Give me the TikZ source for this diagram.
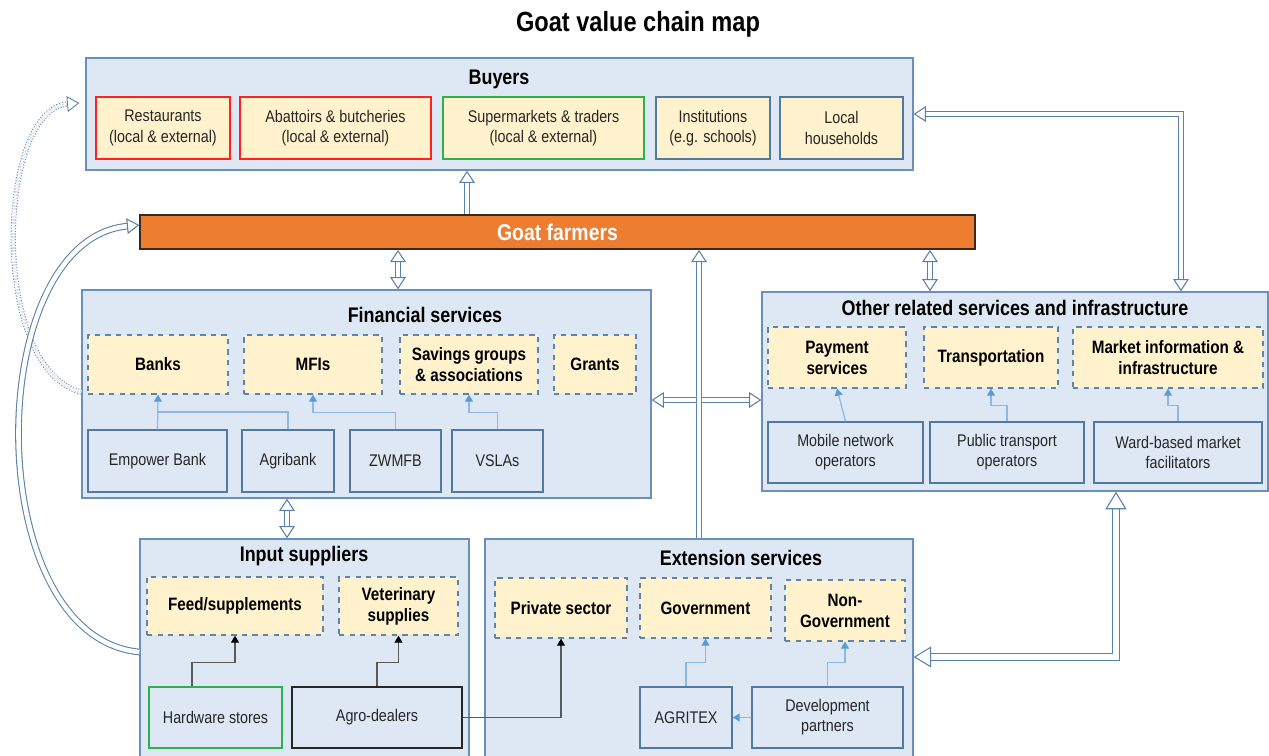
\documentclass[tikz,border=0pt]{standalone}
\usepackage{fontspec}
\setmainfont[FakeStretch=0.85]{Liberation Sans}
\usetikzlibrary{arrows.meta, positioning, calc}

\definecolor{frameblue}{HTML}{6B8FBB}
\definecolor{panelfill}{HTML}{DEE8F4}
\definecolor{catfill}{HTML}{FFF2CC}
\definecolor{dashblue}{HTML}{5C84B1}
\definecolor{actorblue}{HTML}{52799F}
\definecolor{linkblue}{HTML}{8DB8E2}
\definecolor{tipblue}{HTML}{5B9BD5}
\definecolor{flowblue}{HTML}{5A80AC}
\definecolor{farmorange}{HTML}{ED7D31}
\definecolor{farmborder}{HTML}{3A2A1E}
\definecolor{buyred}{HTML}{FF2020}
\definecolor{buygreen}{HTML}{2DB050}
\definecolor{txtgray}{HTML}{262626}

\begin{document}
\begin{tikzpicture}[
    x=0.02cm, y=-0.02cm,
    every node/.style={align=center, inner sep=1pt, text=txtgray}
]
    % Define styles
    \tikzstyle{panel} = [rectangle, draw=frameblue, fill=panelfill, line width=0.8pt]
    \tikzstyle{heading} = [font=\fontsize{12}{14}\selectfont\bfseries, text=black]
    \tikzstyle{category} = [rectangle, draw=dashblue, dashed, fill=catfill, line width=0.7pt, font=\fontsize{10.2}{12}\selectfont\bfseries, text=black]
    \tikzstyle{actor} = [rectangle, draw=actorblue, line width=0.7pt, font=\fontsize{9.6}{11.5}\selectfont]
    \tikzstyle{buyer} = [rectangle, fill=catfill, line width=0.7pt, minimum height=1.24cm, font=\fontsize{9.6}{11.5}\selectfont]
    \tikzstyle{link} = [draw=linkblue, line width=0.7pt]
    \tikzstyle{linkarrow} = [link, -{Triangle[length=4pt, width=4.5pt, color=tipblue]}]
    \tikzstyle{supply} = [draw=gray!70!black, line width=0.7pt]
    \tikzstyle{supplyarrow} = [supply, -{Triangle[length=4pt, width=4.5pt, color=black]}]
    \tikzstyle{flow} = [draw=flowblue, line width=0.6pt, double=white, double distance=2.6pt, -{Triangle[open, length=7pt, width=9pt]}]
    \tikzstyle{flowboth} = [flow, {Triangle[open, length=7pt, width=9pt]}-{Triangle[open, length=7pt, width=9pt]}]

    \useasboundingbox (0,0) rectangle (1269,755);

    % Title
    \node[font=\fontsize{15.8}{18}\selectfont\bfseries, text=black] (title) at (638,24) {Goat value chain map};

    % Buyers
    \node[panel, minimum width=16.54cm, minimum height=2.24cm] (buyers) at (499.5,114) {};
    \node[heading] (buyershead) at (499,79) {Buyers};
    \node[buyer, draw=buyred, minimum width=2.68cm] (rest) at (163,128) {Restaurants\\(local \& external)};
    \node[buyer, draw=buyred, minimum width=3.82cm] (abat) at (335.5,128) {Abattoirs \& butcheries\\(local \& external)};
    \node[buyer, draw=buygreen, minimum width=4.02cm] (super) at (543.5,128) {Supermarkets \& traders\\(local \& external)};
    \node[buyer, draw=actorblue, minimum width=2.28cm] (inst) at (713,128) {Institutions\\(e.g. schools)};
    \node[buyer, draw=actorblue, minimum width=2.46cm] (house) at (841.5,128) {Local\\households};

    % Goat farmers
    \node[rectangle, draw=farmborder, fill=farmorange, line width=1pt, minimum width=16.7cm, minimum height=0.68cm,
          font=\fontsize{13}{15}\selectfont\bfseries, text=white] (goat) at (557.5,232) {Goat farmers};

    % Financial services
    \node[panel, minimum width=11.38cm, minimum height=4.16cm] (fin) at (366.5,394) {};
    \node[heading] (finhead) at (425,315) {Financial services};
    \node[category, minimum width=2.8cm, minimum height=1.18cm] (banks) at (158,364.5) {Banks};
    \node[category, minimum width=2.76cm, minimum height=1.18cm] (mfis) at (313,364.5) {MFIs};
    \node[category, minimum width=2.76cm, minimum height=1.18cm] (savings) at (469,364.5) {Savings groups\\\& associations};
    \node[category, minimum width=1.64cm, minimum height=1.18cm] (grants) at (595,364.5) {Grants};
    \node[actor, minimum width=2.78cm, minimum height=1.24cm] (empower) at (157.5,461) {Empower Bank};
    \node[actor, minimum width=1.84cm, minimum height=1.24cm] (agribank) at (288,461) {Agribank};
    \node[actor, minimum width=1.82cm, minimum height=1.24cm] (zwmfb) at (395.5,461) {ZWMFB};
    \node[actor, minimum width=1.82cm, minimum height=1.24cm] (vslas) at (497.5,461) {VSLAs};

    % Other related services and infrastructure
    \node[panel, minimum width=10.12cm, minimum height=3.98cm] (other) at (1015,391.5) {};
    \node[heading] (otherhead) at (1015,308) {Other related services and infrastructure};
    \node[category, minimum width=2.76cm, minimum height=1.22cm] (pay) at (837,357.5) {Payment\\services};
    \node[category, minimum width=2.68cm, minimum height=1.22cm] (transp) at (991,357.5) {Transportation};
    \node[category, minimum width=3.8cm, minimum height=1.22cm] (market) at (1168,357.5) {Market information \&\\infrastructure};
    \node[actor, minimum width=3.1cm, minimum height=1.22cm] (mobile) at (845.5,452.5) {Mobile network\\operators};
    \node[actor, minimum width=3.08cm, minimum height=1.22cm] (public) at (1007,452.5) {Public transport\\operators};
    \node[actor, minimum width=3.36cm, minimum height=1.22cm] (ward) at (1178,452.5) {Ward-based market\\facilitators};

    % Input suppliers
    \node[panel, minimum width=6.58cm, minimum height=4.52cm] (inp) at (304.5,652) {};
    \node[heading] (inphead) at (304,556) {Input suppliers};
    \node[category, minimum width=3.52cm, minimum height=1.16cm] (feed) at (235,606) {Feed/supplements};
    \node[category, minimum width=2.38cm, minimum height=1.16cm] (vet) at (398.5,606) {Veterinary\\supplies};
    \node[actor, draw=buygreen, minimum width=2.66cm, minimum height=1.22cm] (hardware) at (215.5,717.5) {Hardware stores};
    \node[actor, draw=txtgray, minimum width=3.4cm, minimum height=1.22cm] (agro) at (377,717.5) {Agro-dealers};

    % Extension services
    \node[panel, minimum width=8.56cm, minimum height=4.52cm] (ext) at (699,652) {};
    \node[heading] (exthead) at (741,558) {Extension services};
    \node[category, minimum width=2.64cm, minimum height=1.2cm] (private) at (561,608) {Private sector};
    \node[category, minimum width=2.62cm, minimum height=1.2cm] (govt) at (705.5,608) {Government};
    \node[category, minimum width=2.4cm, minimum height=1.22cm] (nongov) at (845,610.5) {Non-\\Government};
    \node[actor, minimum width=1.84cm, minimum height=1.22cm] (agritex) at (686,717.5) {AGRITEX};
    \node[actor, minimum width=3.02cm, minimum height=1.22cm] (devp) at (827.5,717.5) {Development\\partners};

    % Links inside financial services
    \draw[linkarrow] (empower.north) -- (banks.south);
    \draw[link] (agribank.north) |- ($(empower.north)!0.5!(banks.south)$);
    \draw[linkarrow] (zwmfb.north) -- ++(0,-17) -| (mfis.south);
    \draw[linkarrow] (vslas.north) -- ++(0,-17) -| (savings.south);

    % Links inside other services
    \draw[linkarrow] (mobile.north) -- (pay.south);
    \draw[linkarrow] (public.north) -- ++(0,-16) -| (transp.south);
    \draw[linkarrow] (ward.north) -- ++(0,-16) -| (market.south);

    % Links inside input suppliers
    \draw[supplyarrow] ([xshift=-0.47cm]hardware.north) -- ++(0,-24) -| (feed.south);
    \draw[supplyarrow] (agro.north) -- ++(0,-24) -| (vet.south);
    \draw[supplyarrow] (agro.east) -| (private.south);

    % Links inside extension services
    \draw[linkarrow] (agritex.north) -- ++(0,-24) -| (govt.south);
    \draw[linkarrow] (devp.north) -- ++(0,-24) -| (nongov.south);
    \draw[linkarrow] (devp.west) -- (agritex.east);

    % Flows between the actors
    \draw[flow] ([xshift=-1.81cm]goat.north) -- ([xshift=-1.81cm]goat.north |- buyers.south);
    \draw[flowboth] ([xshift=0.63cm]fin.north) -- ([xshift=0.63cm]fin.north |- goat.south);
    \draw[flowboth] ([xshift=-1.7cm]other.north) -- ([xshift=-1.7cm]other.north |- goat.south);
    \draw[flowboth] ([yshift=-0.12cm]fin.east) -- ([yshift=-0.12cm]fin.east -| other.west);
    \draw[flowboth] (buyers.east) -| ([xshift=3.32cm]other.north);
    \draw[flow] (ext.north) -- (ext.north |- goat.south);
    \draw[flowboth] ([xshift=-0.35cm]inp.north) -- ([xshift=-0.35cm]inp.north |- fin.south);
    \draw[flowboth, double distance=3.2pt, {Triangle[open, length=10pt, width=12pt]}-{Triangle[open, length=10pt, width=12pt]}]
        ([yshift=-0.1cm]ext.east) -| ([xshift=2.02cm]other.south);

    % Curved flows on the left
    \draw[flow, densely dotted, line width=0.5pt, double distance=2pt]
        ([yshift=0.04cm]fin.west) .. controls +(-92,-22) and +(-83,7) .. ([xshift=-0.12cm,yshift=0.22cm]buyers.west);
    \draw[flow] (inp.west) .. controls +(-160,-15) and +(-158,15) .. ([yshift=0.14cm]goat.west);

\end{tikzpicture}
\end{document}
